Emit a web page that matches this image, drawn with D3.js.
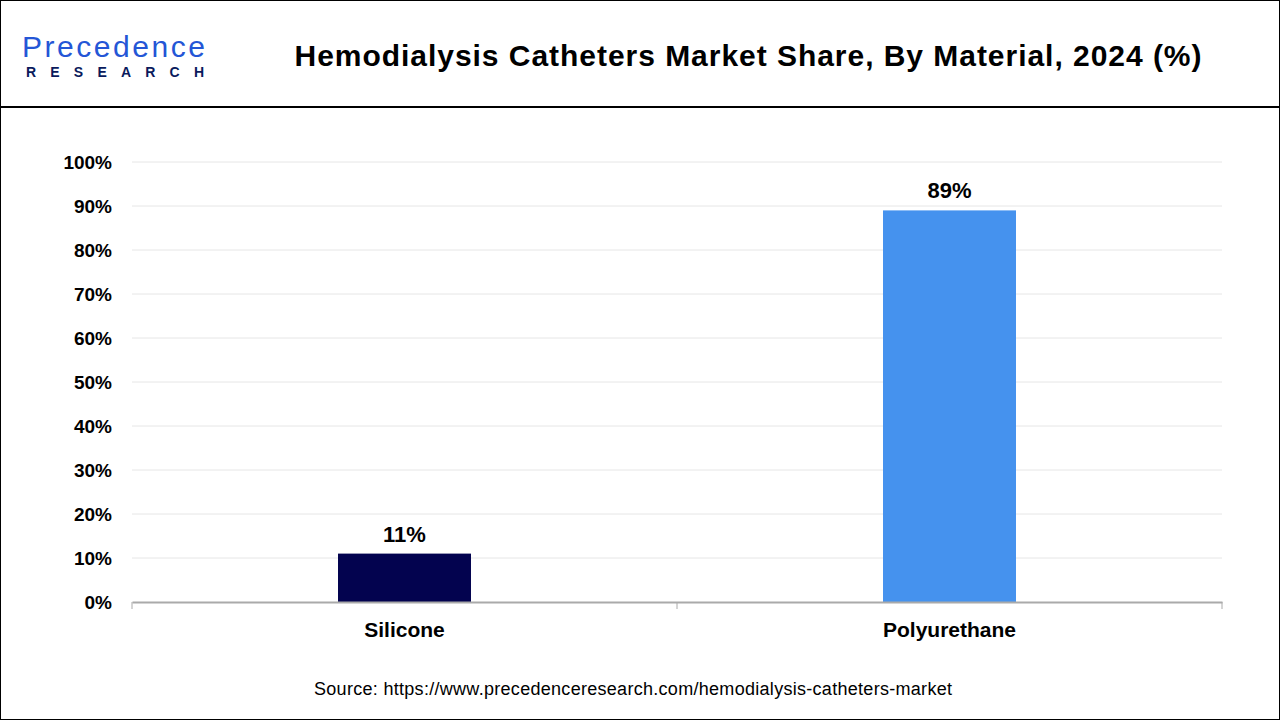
<!DOCTYPE html>
<html><head><meta charset="utf-8">
<script src="https://cdn.jsdelivr.net/npm/d3@7"></script>
<style>body{margin:0;background:#fff}svg{display:block;font-family:Arial,"Liberation Sans",sans-serif}</style>
</head><body>
<svg id="c" width="1280" height="720"></svg>
<script>
const categories = ["Silicone", "Polyurethane"];
const values = [11, 89];
const colors = ["#03034f", "#4592ee"];
const yTicks = [0,10,20,30,40,50,60,70,80,90,100];

const svg = d3.select("#c");
svg.append("rect").attr("x",0.5).attr("y",0.5).attr("width",1279).attr("height",719).attr("fill","none").attr("stroke","#000");
svg.append("line").attr("x1",0).attr("x2",1280).attr("y1",107).attr("y2",107).attr("stroke","#000").attr("stroke-width",2);

// logo
const lg = svg.append("g");
lg.append("text").attr("x",22).attr("y",57).attr("font-size",30).attr("fill","#2456d6").attr("textLength",183)
  .text("Precedence");
lg.append("text").attr("x",26).attr("y",77).attr("font-size",14).attr("font-weight","bold").attr("fill","#0a1a5c").attr("textLength",178).text("RESEARCH");

svg.append("text").attr("x",748).attr("y",66).attr("text-anchor","middle").attr("font-size",30).attr("font-weight","bold").attr("fill","#000")
  .attr("textLength",907).text("Hemodialysis Catheters Market Share, By Material, 2024 (%)");

const x = d3.scaleBand().domain(categories).range([132,1222]);
const y = d3.scaleLinear().domain([0,100]).range([602,162]);
const bw = x.bandwidth()*0.244;

svg.append("g").selectAll("line").data(yTicks.slice(1)).join("line")
  .attr("x1",132).attr("x2",1222).attr("y1",d=>y(d)).attr("y2",d=>y(d)).attr("stroke","#e6e6e6");

const ya = svg.append("g").attr("transform","translate(132,0)")
  .call(d3.axisLeft(y).tickValues(yTicks).tickFormat(d=>d+"%").tickSize(0).tickPadding(20));
ya.select(".domain").remove();
ya.selectAll("text").attr("font-size",19).attr("font-weight","bold").attr("fill","#000").attr("font-family","Arial,'Liberation Sans',sans-serif");

svg.append("g").selectAll("rect").data(categories).join("rect")
  .attr("x",d=>x(d)+x.bandwidth()/2-bw/2).attr("width",bw)
  .attr("y",(d,i)=>y(values[i])).attr("height",(d,i)=>y(0)-y(values[i]))
  .attr("fill",(d,i)=>colors[i]);

svg.append("g").selectAll("text").data(categories).join("text")
  .attr("x",d=>x(d)+x.bandwidth()/2).attr("y",(d,i)=>y(values[i])-12)
  .attr("text-anchor","middle").attr("font-size",22).attr("font-weight","bold").text((d,i)=>values[i]+"%");

const xa = svg.append("g").attr("transform","translate(0,602)")
  .call(d3.axisBottom(x).tickSize(0).tickPadding(20));
xa.select(".domain").attr("stroke","#aaa").attr("stroke-width",2);
xa.selectAll("text").attr("font-size",21).attr("font-weight","bold").attr("fill","#000").attr("font-family","Arial,'Liberation Sans',sans-serif");
svg.append("g").selectAll("line").data([132,677,1222]).join("line")
  .attr("x1",d=>d).attr("x2",d=>d).attr("y1",602).attr("y2",609).attr("stroke","#aaa");

svg.append("text").attr("x",633).attr("y",695).attr("text-anchor","middle").attr("font-size",18).attr("fill","#000")
  .attr("textLength",638).text("Source: https://www.precedenceresearch.com/hemodialysis-catheters-market");
</script>
</body></html>
